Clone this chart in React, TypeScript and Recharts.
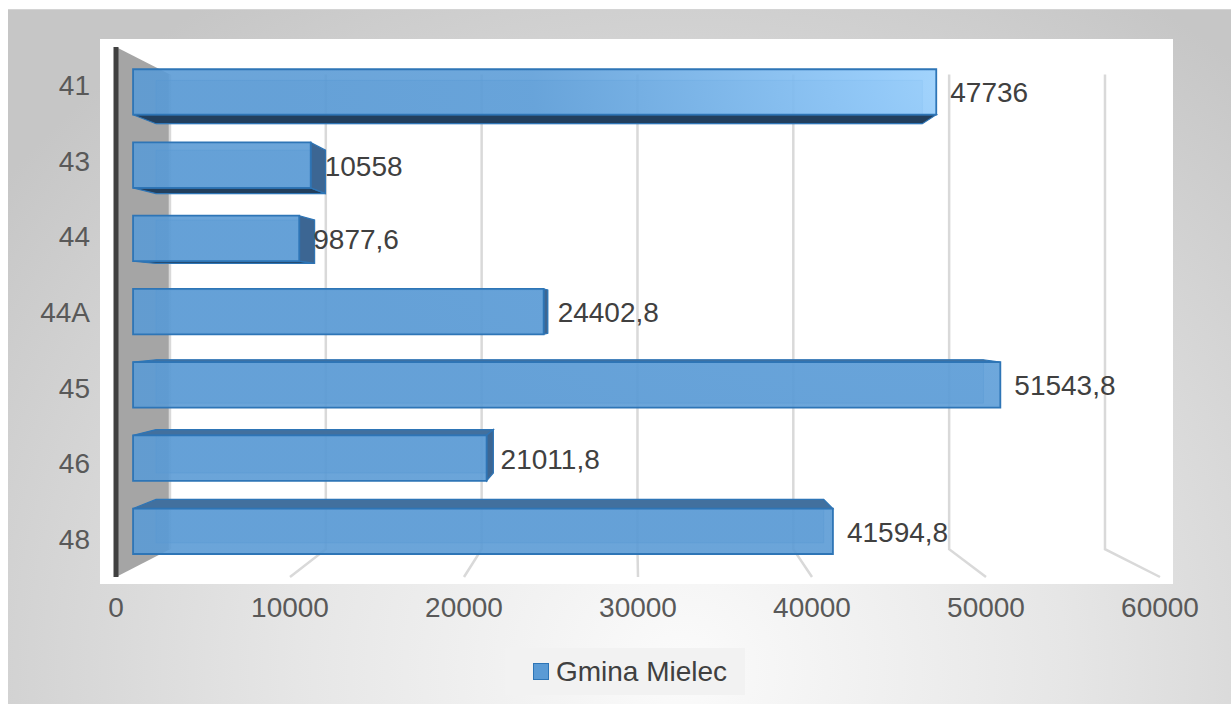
import { BarChart, Bar, XAxis, YAxis, CartesianGrid, Legend, LabelList } from 'recharts';

const CATEGORIES = ['41', '43', '44', '44A', '45', '46', '48'];
const VALUES = [47736, 10558, 9877.6, 24402.8, 51543.8, 21011.8, 41594.8];
const X_TICKS = [0, 10000, 20000, 30000, 40000, 50000, 60000];
const SERIES_NAME = 'Gmina Mielec';

const data = CATEGORIES.map((name, i) => ({ name, value: VALUES[i] }));

const FONT = '"Liberation Sans", Arial, sans-serif';

// chart box: the plot area is the front plane of the 3D box
const W = 1231;
const H = 704;
const X_AXIS_H = 30;
const Y_AXIS_W = 56;
const MARGIN = { top: 47, right: 71, bottom: 127 - X_AXIS_H, left: 60 };
const PL = MARGIN.left + Y_AXIS_W;
const PT = MARGIN.top;
const PB = H - MARGIN.bottom - X_AXIS_H;

// perspective: everything shrinks toward the vanishing point with depth
const VX = 633;
const VY = 311;
const S_FRONT = 0.967; // bar front face
const S_BACK = 0.9226; // bar back face
const S_WALL = 0.8956; // back wall

const proj = (s: number, x: number, y: number): [number, number] => [VX + s * (x - VX), VY + s * (y - VY)];
const pts = (...ps: [number, number][]) => ps.map((p) => `${p[0]},${p[1]}`).join(' ');

const fmt = (v: number) => String(v).replace('.', ',');

function Bar3D(props: any) {
  const x = Number(props.x);
  const y = Number(props.y);
  const width = Number(props.width);
  const height = Number(props.height);
  if (!(width > 0)) return null;
  const x2 = x + width;
  const y2 = y + height;
  const fA = proj(S_FRONT, x, y), fB = proj(S_FRONT, x2, y), fC = proj(S_FRONT, x2, y2), fD = proj(S_FRONT, x, y2);
  const bA = proj(S_BACK, x, y), bB = proj(S_BACK, x2, y), bC = proj(S_BACK, x2, y2), bD = proj(S_BACK, x, y2);
  return (
    <g>
      <polygon points={pts(bA, bB, bC, bD)} fill="#4f8cc6" fillOpacity={0.35} stroke="#2e75b6" strokeOpacity={0.45} strokeWidth={1} />
      {y2 < VY && <polygon points={pts(fD, fC, bC, bD)} fill="#223f5d" stroke="#2e75b6" strokeWidth={1.2} />}
      {y > VY && <polygon points={pts(fA, fB, bB, bA)} fill="#42709e" stroke="#2e75b6" strokeWidth={1.2} />}
      {x2 < VX && <polygon points={pts(fB, fC, bC, bB)} fill="#3c6693" stroke="#2e75b6" strokeWidth={1.2} />}
      <polygon points={pts(fA, fB, fC, fD)} fill="url(#barLight)" fillOpacity={0.9} stroke="#2e75b6" strokeWidth={1.8} />
    </g>
  );
}

function ValueLabel(props: any) {
  const x = Number(props.x);
  const y = Number(props.y);
  const [ex, ey] = proj(S_FRONT, x + Number(props.width), y + Number(props.height) / 2);
  return (
    <text x={ex + 14} y={ey + 1} dominantBaseline="central" fontSize={28} fill="#404040" fontFamily={FONT}>
      {fmt(Number(props.value))}
    </text>
  );
}

function GridLine(props: any) {
  const x = Number(props.x1);
  const [bx, by1] = proj(S_WALL, x, PT);
  const [, by2] = proj(S_WALL, x, PB);
  const isZero = Math.abs(x - PL) < 0.5;
  return (
    <g key={`grid-${x}`}>
      {isZero && <polygon points={`${PL},${PT} ${bx},${by1} ${bx},${by2} ${PL},${PB}`} fill="#a5a5a5" />}
      <polyline
        points={isZero ? `${bx},${by1} ${bx},${by2}` : `${bx},${by1} ${bx},${by2} ${x},${PB}`}
        fill="none"
        stroke="#d9d9d9"
        strokeWidth={2.5}
      />
    </g>
  );
}

function LegendBox() {
  return (
    <div
      style={{
        width: 240, height: 47, background: '#f2f2f2', display: 'flex', boxSizing: 'border-box',
        alignItems: 'center', justifyContent: 'center', fontFamily: FONT, paddingLeft: 10,
      }}
    >
      <span style={{ width: 16, height: 17, background: '#5b9bd5', border: '1.5px solid #2e75b6', marginRight: 7, boxSizing: 'border-box' }} />
      <span style={{ fontSize: 28, color: '#404040' }}>{SERIES_NAME}</span>
    </div>
  );
}

export default function App() {
  return (
    <div style={{ position: 'fixed', left: 0, top: 0, width: W, height: H, background: '#fff', fontFamily: FONT, overflow: 'hidden' }}>
      <div
        style={{
          position: 'absolute', left: 8, top: 9, right: 0, bottom: 0,
          borderTop: '1px solid #d4d4d4',
          background: 'radial-gradient(ellipse 70% 115% at 55% 95%, #fbfbfb 0%, #e6e6e6 45%, #c6c6c6 100%)',
        }}
      />
      <div style={{ position: 'absolute', left: 100, top: 39, width: 1073, height: 545, background: '#fff' }} />
      <div style={{ position: 'absolute', left: 0, top: 0 }}>
        <BarChart width={W} height={H} data={data} layout="vertical" margin={MARGIN}>
          <defs>
            <radialGradient
              id="barLight"
              gradientUnits="userSpaceOnUse"
              cx={1000}
              cy={80}
              r={720}
              gradientTransform="translate(1000 80) scale(1 0.6) translate(-1000 -80)"
            >
              <stop offset="0%" stopColor="#a2d6ff" />
              <stop offset="18%" stopColor="#8cc6f8" />
              <stop offset="65%" stopColor="#5e9ed8" />
              <stop offset="100%" stopColor="#5b9bd5" />
            </radialGradient>
          </defs>
          <CartesianGrid horizontal={false} vertical={GridLine} />
          <XAxis
            type="number"
            domain={[0, 60000]}
            ticks={X_TICKS}
            interval={0}
            height={X_AXIS_H}
            axisLine={false}
            tickLine={false}
            tickSize={0}
            tickMargin={20}
            tick={{ fontSize: 28, fill: '#595959', fontFamily: FONT }}
          />
          <YAxis
            type="category"
            dataKey="name"
            width={Y_AXIS_W}
            tickLine={false}
            tickSize={0}
            tickMargin={26}
            axisLine={{ stroke: '#404040', strokeWidth: 5 }}
            tick={{ fontSize: 28, fill: '#595959', fontFamily: FONT }}
          />
          <Legend
            layout="horizontal"
            verticalAlign="middle"
            align="center"
            wrapperStyle={{ left: 505, top: 648, width: 240, height: 47 }}
            content={() => <LegendBox />}
          />
          <Bar dataKey="value" name={SERIES_NAME} barSize={47} shape={Bar3D} isAnimationActive={false}>
            <LabelList dataKey="value" content={ValueLabel} />
          </Bar>
        </BarChart>
      </div>
    </div>
  );
}
